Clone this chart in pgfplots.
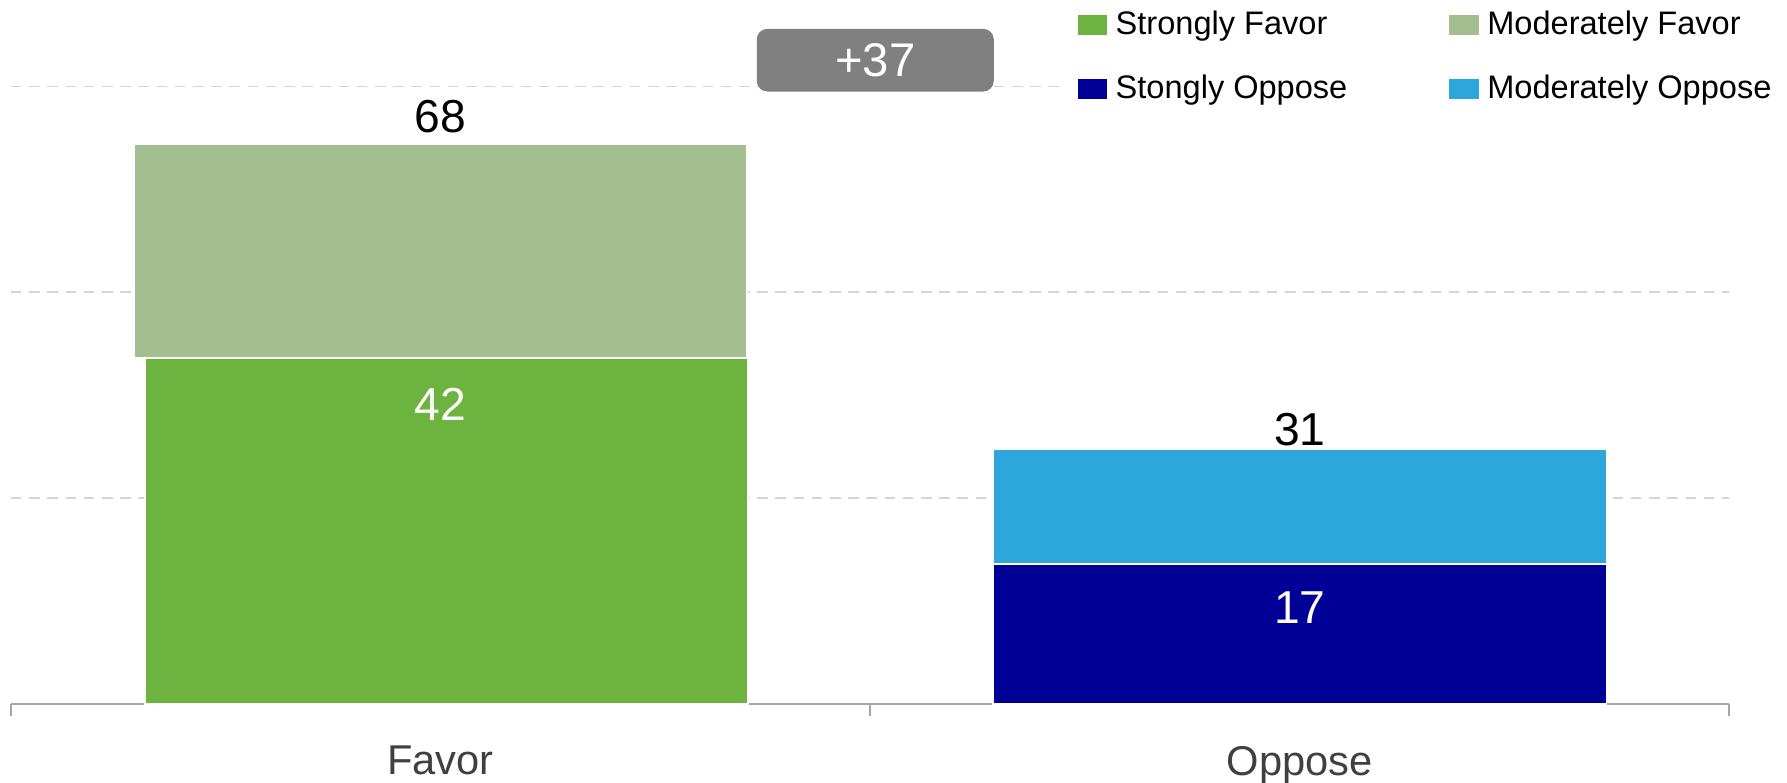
\documentclass[border=0pt]{standalone}
\usepackage{pgfplots}
\pgfplotsset{compat=1.18}
\usepackage{fontspec}
\setmainfont{Liberation Sans}

\definecolor{sfav}{HTML}{6DB33F}
\definecolor{mfav}{HTML}{A3BE91}
\definecolor{sopp}{HTML}{000096}
\definecolor{mopp}{HTML}{2DA6DC}
\definecolor{boxgray}{HTML}{808080}
\definecolor{axgray}{HTML}{A6A6A6}
\definecolor{gridgray}{HTML}{D4D4D4}
\definecolor{labgray}{HTML}{404040}

\begin{document}
\begin{tikzpicture}
\useasboundingbox (-3.14pt,-22.6pt) rectangle (507.4pt,201.1pt);
\begin{axis}[
    at={(0,0)}, anchor=south west,
    scale only axis, width=490.9pt, height=199.9pt,
    ybar stacked, bar width=0.714,
    xmin=-0.5, xmax=1.5, ymin=0, ymax=85,
    clip=false,
    axis x line*=bottom, axis y line*=left,
    x axis line style={axgray, line width=0.6pt},
    y axis line style={draw=none},
    xtick={0,1}, xticklabels={Favor,Oppose},
    major tick length=0pt,
    minor xtick={-0.5,0.5,1.5},
    minor x tick style={axgray, line width=0.6pt},
    minor tick length=3.5pt, tick align=outside,
    xticklabel style={font=\fontsize{11.9}{14}\selectfont, text=labgray, yshift=-8.5pt},
    ytick={25,50,75}, yticklabels={}, ymajorgrids,
    y tick style={draw=none},
    y grid style={gridgray, line width=0.5pt, dash pattern=on 3pt off 2.2pt},
    legend columns=2, transpose legend, legend cell align=left,
    legend style={at={(axis cs:0.7223,86.85)}, anchor=north west, draw=none, fill=white,
        inner sep=4pt, font=\fontsize{9.3}{11}\selectfont, row sep=6pt,
        /tikz/every even column/.append style={column sep=26.6pt}},
    legend image code/.code={\fill[#1] (0pt,-3.1pt) rectangle (8.9pt,3.1pt);},
]
% Strongly Favor (slightly inset on the left, as in the original)
\addplot[fill=sfav, draw=white, line width=0.5pt, bar width=0.7017, bar shift=0.007]
    coordinates {(0,42) (1,0)};
\addplot[fill=sopp, draw=white, line width=0.5pt]
    coordinates {(0,0) (1,17)};
\addplot[fill=mfav, draw=white, line width=0.5pt]
    coordinates {(0,26) (1,0)};
\addplot[fill=mopp, draw=white, line width=0.5pt]
    coordinates {(0,0) (1,14)};
\legend{Strongly Favor, Stongly Oppose, Moderately Favor, Moderately Oppose}

\coordinate (tfav) at (axis cs:0,71.3);
\coordinate (sfav) at (axis cs:0,36.4);
\coordinate (topp) at (axis cs:1,33.3);
\coordinate (sopp) at (axis cs:1,11.7);
\coordinate (diff) at (axis cs:0.506,78.2);
\end{axis}
\node[font=\fontsize{13.2}{15}\selectfont] at (tfav) {68};
\node[font=\fontsize{13.2}{15}\selectfont, text=white] at (sfav) {42};
\node[font=\fontsize{13.2}{15}\selectfont] at (topp) {31};
\node[font=\fontsize{13.2}{15}\selectfont, text=white] at (sopp) {17};
\node[fill=boxgray, rounded corners=3pt, text=white, minimum width=67.7pt,
      minimum height=17.9pt, inner sep=0pt, font=\fontsize{13.5}{15}\selectfont]
      at (diff) {+37};
\end{tikzpicture}
\end{document}
